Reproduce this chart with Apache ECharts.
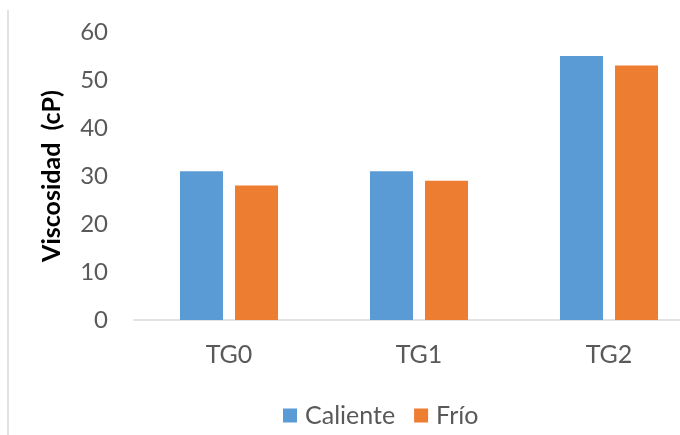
<!DOCTYPE html>
<html><head><meta charset="utf-8">
<script src="https://cdn.jsdelivr.net/npm/echarts@6/dist/echarts.min.js"></script>
<style>html,body{margin:0;padding:0;background:#fff;overflow:hidden;width:680px;height:435px}#c{width:704px;height:435px}</style>
</head><body><div id="c"></div>
<script>
const categories = ['TG0', 'TG1', 'TG2'];
const caliente = [31, 31, 55];
const frio = [28, 29, 53];
const yTitle = 'Viscosidad  (cP)';
const FONT = 'Lato, "Open Sans", sans-serif';
const chart = echarts.init(document.getElementById('c'));
chart.setOption({
  animation: false,
  backgroundColor: '#fff',
  graphic: [{type: 'line', shape: {x1: 8, y1: 10, x2: 8, y2: 435}, style: {stroke: '#d9d9d9', lineWidth: 1.5}}],
  grid: {left: 134, right: 0, top: 32, bottom: 115},
  legend: {
    top: 398, left: 278, itemWidth: 14, itemHeight: 14, itemGap: 19,
    icon: 'rect',
    textStyle: {fontFamily: FONT, fontSize: 25, color: '#595959', padding: [0, 0, 0, 3]},
    data: ['Caliente', 'Frío']
  },
  xAxis: {
    type: 'category', data: categories,
    axisLine: {lineStyle: {color: '#d9d9d9', width: 1.5}},
    axisTick: {show: false},
    axisLabel: {fontFamily: FONT, fontSize: 25, color: '#595959', margin: 22}
  },
  yAxis: {
    type: 'value', min: 0, max: 60, interval: 10,
    name: yTitle, nameLocation: 'middle', nameGap: 70, nameRotate: 90,
    nameTextStyle: {fontFamily: FONT, fontSize: 25, fontWeight: 'bold', color: '#000'},
    axisLine: {show: false}, axisTick: {show: false},
    splitLine: {show: false},
    axisLabel: {fontFamily: FONT, fontSize: 24, color: '#595959', margin: 26}
  },
  series: [
    {name: 'Caliente', type: 'bar', data: caliente, barWidth: 43, barGap: '28%', itemStyle: {color: '#5B9BD5'}},
    {name: 'Frío', type: 'bar', data: frio, barWidth: 43, barGap: '28%', itemStyle: {color: '#ED7D31'}}
  ]
});
</script></body></html>
